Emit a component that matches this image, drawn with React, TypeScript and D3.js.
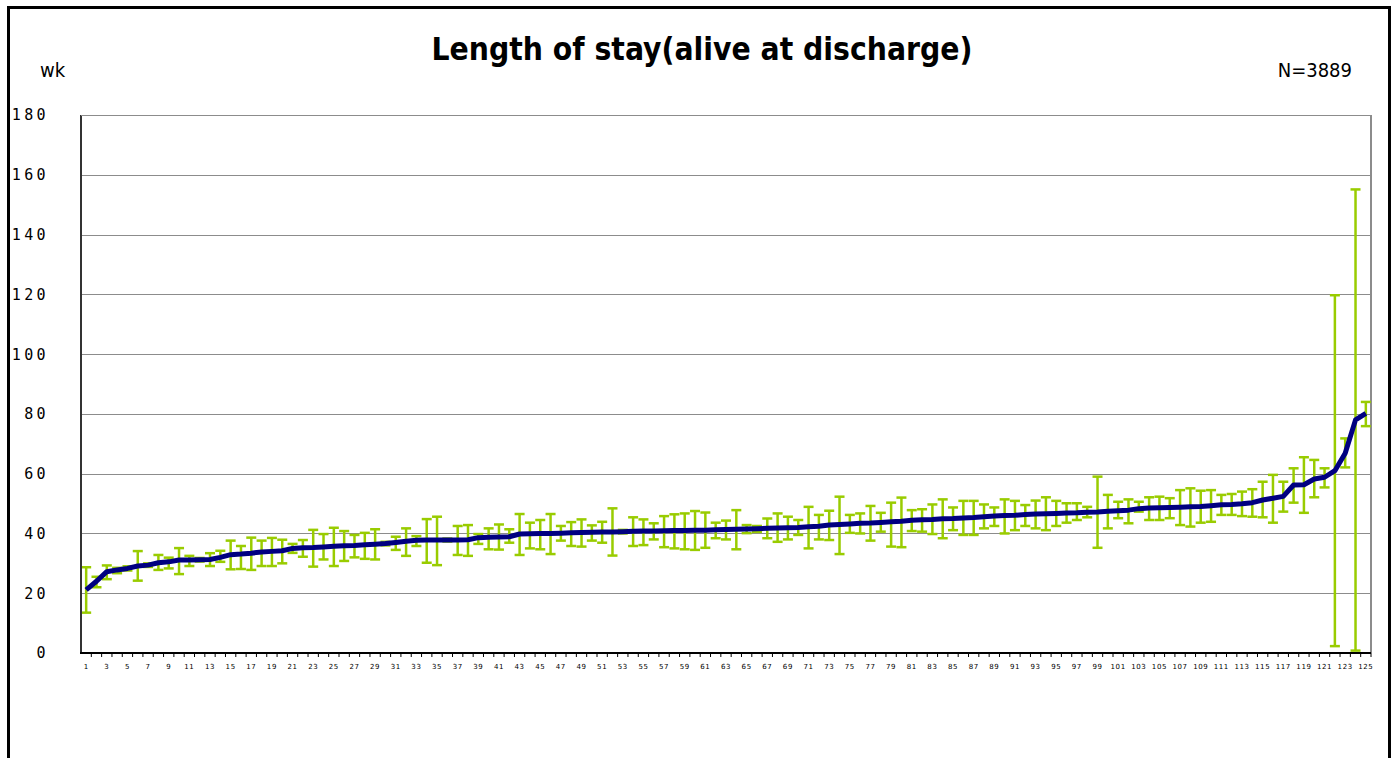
import React from "react";
import * as d3 from "d3";

const title = "Length of stay(alive at discharge)";
const unitLabel = "wk";
const nLabel = "N=3889";
const yTicks = [0, 20, 40, 60, 80, 100, 120, 140, 160, 180];

const categories: string[] = d3.range(1, 126).map(String);

const means = [
  21.1, 24.0, 27.2, 27.8, 28.3, 29.1, 29.4, 30.2, 30.5, 31.1,
  31.1, 31.2, 31.3, 32.0, 32.9, 33.1, 33.4, 33.8, 34.0, 34.2,
  35.0, 35.2, 35.3, 35.5, 35.7, 35.9, 36.0, 36.2, 36.4, 36.6,
  37.0, 37.4, 37.7, 37.8, 37.8, 37.8, 37.8, 37.9, 38.6, 38.7,
  38.8, 38.9, 39.8, 39.9, 40.0, 40.0, 40.1, 40.2, 40.3, 40.4,
  40.5, 40.5, 40.6, 40.7, 40.8, 40.8, 40.9, 41.0, 41.0, 41.1,
  41.1, 41.2, 41.3, 41.4, 41.5, 41.6, 41.7, 41.8, 41.9, 42.0,
  42.2, 42.4, 42.8, 43.0, 43.2, 43.4, 43.5, 43.7, 43.9, 44.1,
  44.4, 44.6, 44.7, 44.9, 45.0, 45.2, 45.3, 45.6, 45.8, 46.0,
  46.1, 46.3, 46.5, 46.6, 46.7, 46.8, 46.9, 47.1, 47.2, 47.4,
  47.6, 47.8, 48.3, 48.5, 48.6, 48.7, 48.8, 48.9, 49.0, 49.3,
  49.6, 49.7, 49.9, 50.3, 51.2, 51.8, 52.4, 56.2, 56.3, 58.2,
  58.8, 61.0, 66.8, 78.0, 80.2,
];

const upper = [
  28.7, 25.5, 29.3, 28.5, 29.0, 34.1, 30.0, 32.8, 31.9, 35.1,
  32.5, 31.8, 33.4, 34.2, 37.6, 35.8, 38.6, 37.6, 38.5, 37.9,
  36.5, 37.8, 41.2, 39.8, 41.9, 40.8, 39.5, 40.2, 41.4, 37.2,
  38.9, 41.7, 39.1, 44.8, 45.6, 38.3, 42.5, 42.8, 39.8, 41.7,
  43.0, 41.4, 46.5, 43.6, 44.5, 46.5, 42.5, 43.8, 44.7, 42.7,
  43.9, 48.4, 41.2, 45.4, 44.7, 43.4, 45.8, 46.4, 46.7, 47.5,
  47.0, 43.6, 44.3, 47.8, 42.8, 42.5, 45.0, 46.7, 45.6, 44.5,
  48.9, 46.2, 47.6, 52.3, 46.2, 46.7, 49.2, 46.9, 50.3, 52.0,
  47.8, 48.1, 49.7, 51.4, 48.7, 50.9, 50.9, 49.7, 48.7, 51.4,
  50.9, 49.5, 51.0, 52.1, 50.9, 50.1, 50.1, 48.9, 59.0, 52.9,
  50.6, 51.4, 50.6, 52.1, 52.3, 51.8, 54.5, 55.1, 54.3, 54.5,
  52.9, 53.2, 54.0, 54.8, 57.3, 59.6, 57.3, 61.8, 65.5, 64.6,
  61.8, 119.7, 71.8, 155.1, 84.0,
];

const lower = [
  13.5, 22.0, 24.7, 26.7, 27.6, 24.2, 28.8, 27.8, 28.3, 26.4,
  29.1, 30.6, 29.1, 30.5, 28.0, 28.1, 27.8, 29.1, 29.1, 30.0,
  33.5, 32.2, 28.9, 31.3, 29.1, 30.8, 32.0, 31.5, 31.3, 36.0,
  34.5, 32.5, 35.8, 30.2, 29.4, 37.3, 32.8, 32.5, 36.5, 34.7,
  34.6, 36.9, 32.8, 35.0, 34.7, 33.1, 37.6, 35.8, 35.6, 37.6,
  36.9, 32.6, 40.0, 35.8, 36.1, 38.0, 35.4, 35.0, 34.7, 34.5,
  35.2, 38.4, 38.0, 34.7, 40.1, 40.5, 38.4, 37.2, 38.0, 39.5,
  35.0, 38.0, 37.8, 33.1, 40.2, 40.0, 37.6, 40.6, 35.6, 35.4,
  40.8, 40.6, 39.8, 38.4, 41.1, 39.5, 39.5, 41.7, 42.5, 40.0,
  41.1, 42.5, 41.7, 41.1, 42.5, 43.6, 44.5, 45.4, 35.2, 41.7,
  45.1, 43.4, 47.3, 44.5, 44.5, 45.1, 42.8, 42.3, 43.6, 43.9,
  46.2, 46.2, 45.8, 45.6, 45.4, 43.6, 47.3, 50.3, 46.9, 52.1,
  55.4, 2.3, 62.1, 0.8, 75.9,
];

const W = 1396;
const H = 758;
const plot = { left: 81, right: 1371, top: 115, bottom: 653 };
const condensed = "'DejaVu Sans Condensed', 'DejaVu Sans', sans-serif";

export default function App() {
  const x = d3
    .scaleBand<string>()
    .domain(categories)
    .range([plot.left, plot.right])
    .padding(0);
  const bw = x.bandwidth();
  const cx = (c: string) => (x(c) as number) + bw / 2;
  const y = d3.scaleLinear().domain([0, 180]).range([plot.bottom, plot.top]);

  const line = d3
    .line<number>()
    .x((_, i) => cx(categories[i]))
    .y((d) => y(d));

  const capHalf = 5;
  const green = "#99CC00";

  return (
    <svg
      width={W}
      height={H}
      style={{ position: "absolute", left: 0, top: 0, background: "#fff" }}
    >
      <rect x={0} y={0} width={W} height={H} fill="#fff" />
      {/* outer frame */}
      <rect
        x={8.5}
        y={7.5}
        width={1381}
        height={820}
        fill="none"
        stroke="#000"
        strokeWidth={3}
      />
      <text
        x={702}
        y={60}
        textAnchor="middle"
        fontFamily={condensed}
        fontWeight="bold"
        fontSize={31.5}
        fill="#000"
      >
        {title}
      </text>
      <text x={40} y={77} fontFamily={condensed} fontSize={20} fill="#000">
        {unitLabel}
      </text>
      <text
        x={1352}
        y={77}
        textAnchor="end"
        fontFamily={condensed}
        fontSize={20}
        fill="#000"
      >
        {nLabel}
      </text>

      {/* gridlines */}
      {yTicks
        .filter((t) => t > 0)
        .map((t) => (
          <line
            key={"g" + t}
            x1={plot.left}
            x2={plot.right}
            y1={Math.round(y(t)) + 0.5}
            y2={Math.round(y(t)) + 0.5}
            stroke="#8c8c8c"
            strokeWidth={1}
          />
        ))}
      {/* right border */}
      <line
        x1={plot.right}
        x2={plot.right}
        y1={plot.top}
        y2={plot.bottom}
        stroke="#8c8c8c"
        strokeWidth={2}
      />

      {/* y tick labels */}
      {yTicks.map((t) => (
        <text
          key={"yl" + t}
          x={49}
          y={y(t)}
          dy="0.36em"
          textAnchor="end"
          fontFamily="'DejaVu Sans Mono', monospace"
          fontSize={15}
          letterSpacing={3.4}
          fill="#000"
        >
          {t}
        </text>
      ))}

      {/* error bars */}
      {categories.map((c, i) => {
        const xc = cx(c);
        const y1 = y(upper[i]);
        const y2 = y(lower[i]);
        return (
          <g key={"e" + c} stroke={green} strokeWidth={2.5}>
            <line x1={xc} x2={xc} y1={y1} y2={y2} />
            <line x1={xc - capHalf} x2={xc + capHalf} y1={y1} y2={y1} />
            <line x1={xc - capHalf} x2={xc + capHalf} y1={y2} y2={y2} />
          </g>
        );
      })}

      {/* mean line */}
      <path
        d={line(means) || ""}
        fill="none"
        stroke="#000080"
        strokeWidth={5}
        strokeLinejoin="round"
      />

      {/* axes */}
      <line
        x1={plot.left}
        x2={plot.left}
        y1={plot.top}
        y2={plot.bottom}
        stroke="#333"
        strokeWidth={2}
      />
      <line
        x1={plot.left}
        x2={plot.right}
        y1={plot.top + 0.5}
        y2={plot.top + 0.5}
        stroke="#8c8c8c"
        strokeWidth={1}
      />
      <line
        x1={plot.left - 1}
        x2={plot.right}
        y1={plot.bottom}
        y2={plot.bottom}
        stroke="#000"
        strokeWidth={2}
      />
      {categories.map((c) => (
        <line
          key={"t" + c}
          x1={(x(c) as number) + bw}
          x2={(x(c) as number) + bw}
          y1={plot.bottom}
          y2={plot.bottom + 4}
          stroke="#000"
          strokeWidth={1}
        />
      ))}
      {categories
        .filter((_, i) => i % 2 === 0)
        .map((c) => (
          <text
            key={"xl" + c}
            x={cx(c)}
            y={669}
            textAnchor="middle"
            fontFamily="'DejaVu Sans', sans-serif"
            fontSize={7}
            letterSpacing={0.6}
            fill="#000"
          >
            {c}
          </text>
        ))}
    </svg>
  );
}
